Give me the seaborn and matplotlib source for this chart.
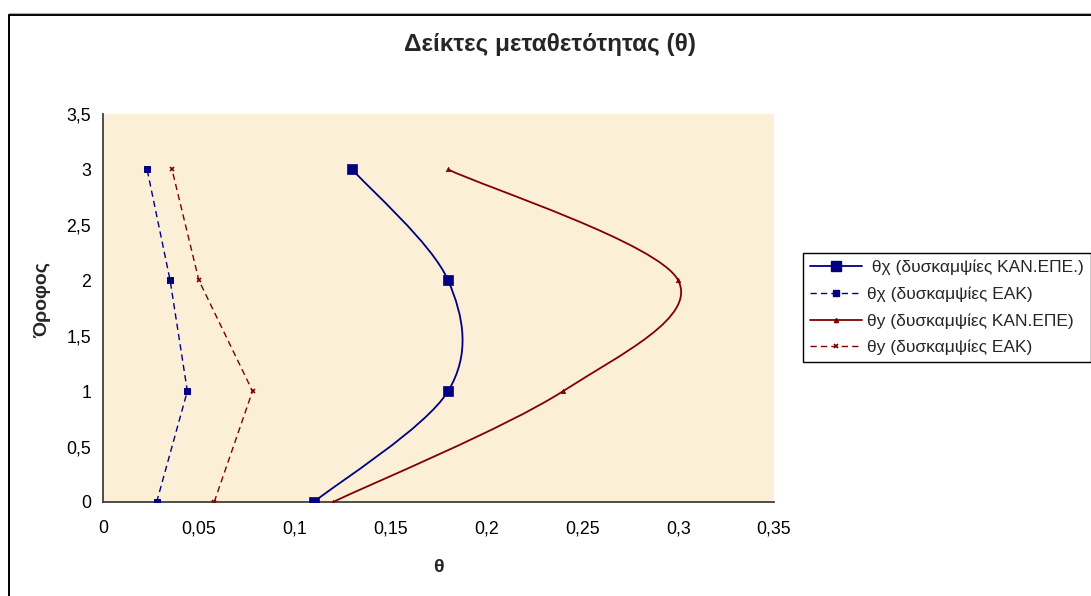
import numpy as np
import pandas as pd
import seaborn as sns
from matplotlib import pyplot as plt
from matplotlib.lines import Line2D
from matplotlib.patches import PathPatch
from matplotlib.path import Path

# floors (y axis) and drift indices
floors = [0, 1, 2, 3]
theta_x_kanepe = [0.110, 0.180, 0.180, 0.130]
theta_x_eak = [0.028, 0.044, 0.035, 0.023]
theta_y_kanepe = [0.120, 0.240, 0.300, 0.180]
theta_y_eak = [0.058, 0.078, 0.050, 0.036]

labels = [" θχ (δυσκαμψίες ΚΑΝ.ΕΠΕ.)", "θχ (δυσκαμψίες ΕΑΚ)",
          "θy (δυσκαμψίες ΚΑΝ.ΕΠΕ)", "θy (δυσκαμψίες ΕΑΚ)"]
x_ticks = [0, 0.05, 0.1, 0.15, 0.2, 0.25, 0.3, 0.35]
y_ticks = [0, 0.5, 1, 1.5, 2, 2.5, 3, 3.5]

BLUE = "#000080"
RED = "#800000"


def smooth_path(xs, ys):
    # excel style smoothed line: cubic bezier segments, catmull-rom tangents
    pts = np.column_stack([xs, ys]).astype(float)
    ext = np.vstack([pts[0], pts, pts[-1]])
    verts = [pts[0]]
    codes = [Path.MOVETO]
    for i in range(len(pts) - 1):
        p0, p1, p2, p3 = ext[i], ext[i + 1], ext[i + 2], ext[i + 3]
        verts += [p1 + (p2 - p0) / 6, p2 - (p3 - p1) / 6, p2]
        codes += [Path.CURVE4] * 3
    return Path(verts, codes)


if __name__ == '__main__':
    sns.set_style("white")
    plt.rcParams['font.family'] = ['Liberation Sans', 'DejaVu Sans']

    fig = plt.figure(figsize=(10.91, 5.96), dpi=100)
    ax = fig.add_axes([103 / 1091, 1 - 502 / 596, 671 / 1091, 388 / 596])
    ax.set_facecolor("#fbefd7")

    df = pd.DataFrame({"floor": floors, "tx_k": theta_x_kanepe, "tx_e": theta_x_eak,
                       "ty_k": theta_y_kanepe, "ty_e": theta_y_eak})

    # smoothed lines
    for col, color in [("tx_k", BLUE), ("ty_k", RED)]:
        ax.add_patch(PathPatch(smooth_path(df[col], df["floor"]), fill=False,
                               edgecolor=color, lw=1.3, zorder=3))

    dash = (4.5, 3)
    sns.lineplot(data=df, x="tx_e", y="floor", orient="y", sort=False, ax=ax, color=BLUE,
                 lw=1.0, linestyle=(0, dash), marker="s", markersize=4,
                 markeredgecolor=BLUE, zorder=4)
    sns.lineplot(data=df, x="ty_e", y="floor", orient="y", sort=False, ax=ax, color=RED,
                 lw=1.0, linestyle=(0, dash), marker="x", markersize=3.5, markeredgewidth=1.2,
                 markeredgecolor=RED, zorder=4)
    sns.scatterplot(data=df, x="tx_k", y="floor", ax=ax, color=BLUE, marker="s", s=50,
                    edgecolor=BLUE, linewidth=0.5, zorder=5)
    sns.scatterplot(data=df, x="ty_k", y="floor", ax=ax, color=RED, marker="^", s=10,
                    edgecolor=RED, linewidth=0.5, zorder=5)

    ax.set_xlim(0, 0.35)
    ax.set_ylim(0, 3.5)
    ax.set_xticks(x_ticks)
    ax.set_yticks(y_ticks)
    fmt = lambda v: f"{v:g}".replace(".", ",")
    ax.set_xticklabels([fmt(v) for v in x_ticks])
    ax.set_yticklabels([fmt(v) for v in y_ticks])
    ax.tick_params(axis="both", direction="out", length=4.5, width=1, color="#404040",
                   labelsize=12.8, colors="black")
    ax.tick_params(axis="x", pad=8.5)
    ax.tick_params(axis="y", pad=4)
    for s in ["top", "right"]:
        ax.spines[s].set_visible(False)
    for s in ["left", "bottom"]:
        ax.spines[s].set_color("#404040")
        ax.spines[s].set_linewidth(1.3)

    ax.set_xlabel("θ", fontsize=14, fontweight="bold")
    ax.set_ylabel("Όροφος", fontsize=14, fontweight="bold")
    ax.xaxis.label.set_va("center")
    ax.yaxis.label.set_va("center")
    ax.xaxis.set_label_coords(0.5, -65 / 388)
    ax.yaxis.set_label_coords(-60 / 671, 0.52)

    fig.text(550 / 1091, 1 - 44 / 596, "Δείκτες μεταθετότητας (θ)", ha="center", va="center",
             fontsize=17.5, fontweight="bold")

    handles = [
        Line2D([], [], color=BLUE, lw=1.3, marker="s", markersize=7),
        Line2D([], [], color=BLUE, lw=1.0, linestyle=(0, dash), marker="s", markersize=4),
        Line2D([], [], color=RED, lw=1.3, marker="^", markersize=3),
        Line2D([], [], color=RED, lw=1.0, linestyle=(0, dash), marker="x", markersize=3.5,
               markeredgewidth=1.2),
    ]
    leg = fig.legend(handles, labels, loc="upper left", bbox_to_anchor=(803 / 1091, 1 - 253 / 596),
                     fontsize=12.5, frameon=True, fancybox=False, shadow=False, framealpha=1,
                     edgecolor="black", handlelength=3.0, handletextpad=0.28, labelspacing=0.64,
                     borderpad=0.4, borderaxespad=0)
    leg.get_frame().set_linewidth(1.0)

    # chart area border (only top and left edges fall inside the image)
    fig.add_artist(Line2D([8.5 / 1091, 8.5 / 1091], [0, 1 - 14.5 / 596], color="black", lw=1.4,
                          transform=fig.transFigure))
    fig.add_artist(Line2D([8.5 / 1091, 1], [1 - 14.5 / 596, 1 - 14.5 / 596], color="black", lw=1.4,
                          transform=fig.transFigure))
    fig.add_artist(Line2D([8.5 / 1091, 1], [1 - 13 / 596, 1 - 13 / 596], color="#b0b0b0", lw=0.8,
                          transform=fig.transFigure))

    fig.savefig("out.png", dpi=100)
